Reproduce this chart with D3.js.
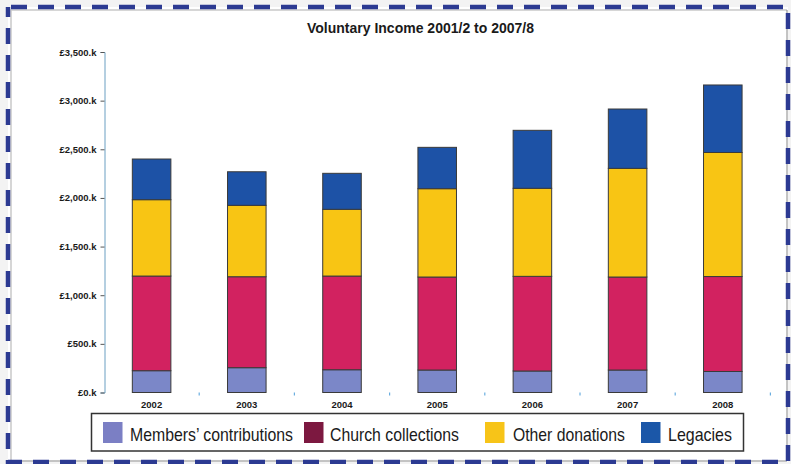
<!DOCTYPE html>
<html>
<head>
<meta charset="utf-8">
<script src="https://cdn.jsdelivr.net/npm/d3@7"></script>
<style>
  html, body { margin: 0; padding: 0; background: #f3f3f3; }
  svg { display: block; }
</style>
</head>
<body>
<svg id="chart" width="791" height="464"></svg>
<script>
// ---- data ----
const years = ["2002", "2003", "2004", "2005", "2006", "2007", "2008"];
const members = [224, 255, 234, 231, 221, 231, 216];
const church = [973, 935, 963, 956, 973, 956, 976];
const otherDonations = [785, 734, 686, 908, 905, 1117, 1275];
const legacies = [418, 345, 370, 425, 596, 610, 694];
const seriesNames = ["Members\u2019 contributions", "Church collections", "Other donations", "Legacies"];
const yTicks = [0, 500, 1000, 1500, 2000, 2500, 3000, 3500];
const titleText = "Voluntary Income 2001/2 to 2007/8";

const barColors = ["#7b87c8", "#d22260", "#f8c514", "#1d52a6"];
const legendColors = ["#7b7fc4", "#7c1840", "#f7c418", "#1b57a8"];

const svg = d3.select("#chart");
const W = 791, H = 464;

// frame
svg.append("rect").attr("x", 8).attr("y", 7).attr("width", 780).attr("height", 455)
  .attr("fill", "#ffffff");
svg.append("path").attr("d", "M11,461 V10 H787").attr("fill", "none")
  .attr("stroke", "#c9c9c9").attr("stroke-width", 1.5);
svg.append("path").attr("d", "M787,10 V461 H11").attr("fill", "none")
  .attr("stroke", "#888").attr("stroke-width", 1);
svg.append("rect").attr("x", 8).attr("y", 7).attr("width", 780).attr("height", 455)
  .attr("fill", "none").attr("stroke", "#2c3a92").attr("stroke-width", 4.5)
  .attr("stroke-dasharray", "16 11").attr("stroke-dashoffset", -3);

// scales
const y = d3.scaleLinear().domain([0, 3500]).range([392.5, 52]);
const x = d3.scaleBand().domain(years).range([104, 770.4]).padding(0);
const barW = x.bandwidth() * 0.405;

// stacked data
const rows = years.map((yr, i) => ({
  year: yr, s0: members[i], s1: church[i], s2: otherDonations[i], s3: legacies[i]
}));
const stack = d3.stack().keys(["s0", "s1", "s2", "s3"]);
const stacked = stack(rows);

// title
svg.append("text").attr("x", 420.5).attr("y", 33)
  .attr("text-anchor", "middle")
  .attr("font-family", "'Liberation Sans Narrow', 'Liberation Sans', Arial, sans-serif")
  .attr("font-weight", "bold").attr("font-size", 15).attr("fill", "#1a1a1a")
  .attr("textLength", 227).attr("lengthAdjust", "spacingAndGlyphs")
  .text(titleText);

// y axis
const yAxis = d3.axisLeft(y).tickValues(yTicks).tickSize(4).tickPadding(4)
  .tickFormat(d => "\u00a3" + d3.format(",")(d) + ".k");
const gy = svg.append("g").attr("transform", "translate(104.5,0)").call(yAxis);
gy.select(".domain").attr("stroke", "#6a9fc2").attr("stroke-width", 1);
gy.selectAll(".tick line").attr("stroke", "#555");
gy.selectAll(".tick text")
  .attr("font-family", "'Liberation Sans', Arial, sans-serif")
  .attr("font-weight", "bold").attr("font-size", 9.5).attr("fill", "#1a1a1a");

// x axis labels
const xAxis = d3.axisBottom(x).tickSize(0).tickPadding(9);
const gx = svg.append("g").attr("transform", "translate(0,392.5)").call(xAxis);
gx.select(".domain").remove();
gx.selectAll(".tick text")
  .attr("font-family", "'Liberation Sans', Arial, sans-serif")
  .attr("font-weight", "bold").attr("font-size", 9.5).attr("fill", "#1a1a1a");

// band boundary ticks
svg.append("g").selectAll("line").data(years.slice(1).concat(["end"]))
  .join("line")
  .attr("x1", d => d === "end" ? x.range()[1] : x(d))
  .attr("x2", d => d === "end" ? x.range()[1] : x(d))
  .attr("y1", 392.5).attr("y2", 395.5)
  .attr("stroke", "#6aaee0").attr("stroke-width", 1.2);

// bars
const layers = svg.append("g").selectAll("g").data(stacked).join("g")
  .attr("fill", (d, i) => barColors[i]);
layers.selectAll("rect").data(d => d).join("rect")
  .attr("x", d => x(d.data.year) + (x.bandwidth() - barW) / 2)
  .attr("width", barW)
  .attr("y", d => y(d[1]))
  .attr("height", d => y(d[0]) - y(d[1]))
  .attr("stroke", "#3a3a3a").attr("stroke-width", 1);

// legend
const legend = svg.append("g");
legend.append("rect").attr("x", 91.5).attr("y", 413.5).attr("width", 652).attr("height", 37.5)
  .attr("fill", "#fff").attr("stroke", "#333").attr("stroke-width", 1.5);
const legendSwatchX = [103, 304, 485, 641];
const legendTextX = [130, 330, 513, 668];
const legendTextW = [163, 129, 112, 64];
const items = legend.selectAll("g.item").data(seriesNames).join("g").attr("class", "item");
items.append("rect")
  .attr("x", (d, i) => legendSwatchX[i]).attr("y", 422)
  .attr("width", 19.5).attr("height", 21)
  .attr("fill", (d, i) => legendColors[i]);
items.append("text")
  .attr("x", (d, i) => legendTextX[i]).attr("y", 440.5)
  .attr("font-family", "'Liberation Sans Narrow', 'Liberation Sans', Arial, sans-serif")
  .attr("font-size", 18.5).attr("fill", "#1a1a1a")
  .attr("textLength", (d, i) => legendTextW[i]).attr("lengthAdjust", "spacingAndGlyphs")
  .text(d => d);
</script>
</body>
</html>
